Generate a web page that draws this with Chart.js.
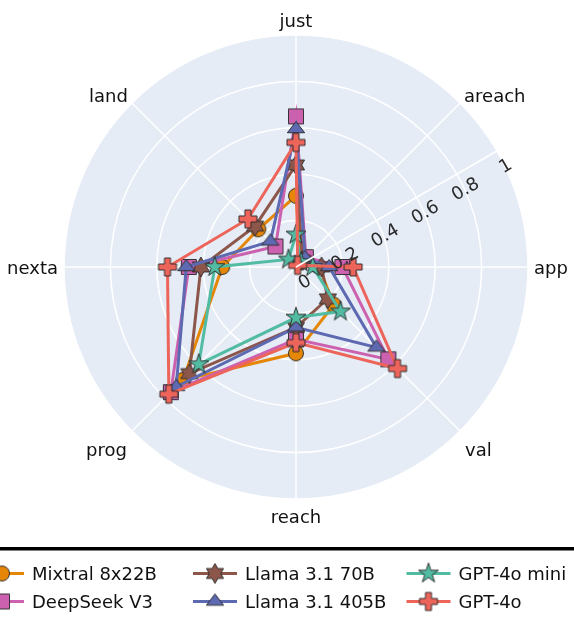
<!DOCTYPE html>
<html><head><meta charset="utf-8">
<script src="https://cdn.jsdelivr.net/npm/chart.js@4.4.1/dist/chart.umd.min.js"></script>
<style>html,body{margin:0;padding:0;background:#fff;} canvas{display:block;}</style>
</head><body>
<canvas id="c" width="574" height="623"></canvas>
<script>
// ---- data ----
const categories = ['just', 'areach', 'app', 'val', 'reach', 'prog', 'nexta', 'land'];
const seriesNames = ['Mixtral 8x22B', 'DeepSeek V3', 'Llama 3.1 70B', 'Llama 3.1 405B', 'GPT-4o mini', 'GPT-4o'];
const mixtral   = [0.307, 0.03, 0.10, 0.23, 0.372, 0.688, 0.318, 0.23];
const deepseek  = [0.649, 0.06, 0.20, 0.563, 0.312, 0.763, 0.462, 0.125];
const llama70   = [0.44, 0.04, 0.11, 0.194, 0.26, 0.65, 0.41, 0.249];
const llama405  = [0.595, 0.056, 0.143, 0.49, 0.26, 0.73, 0.473, 0.156];
const gpt4oMini = [0.14, 0.03, 0.072, 0.271, 0.218, 0.593, 0.35, 0.046];
const gpt4o     = [0.537, 0.01, 0.246, 0.619, 0.326, 0.775, 0.554, 0.293];
const radialTicks = [0, 0.2, 0.4, 0.6, 0.8, 1];
const radialTickLabels = ['0', '0.2', '0.4', '0.6', '0.8', '1'];

// ---- styles ----
const seriesValues = [mixtral, deepseek, llama70, llama405, gpt4oMini, gpt4o];
const seriesColors = ['rgb(229,134,6)', 'rgb(204,97,176)', 'rgb(140,86,75)', 'rgb(93,105,177)', 'rgb(82,188,163)', 'rgb(237,100,90)'];
const seriesSymbols = ['circle', 'square', 'hexagram', 'triangle', 'star', 'cross'];
const FONT = '18px "DejaVu Sans", Verdana, sans-serif';
const TEXT = '#111';

function symbolPath(sym, r) {
  const f = v => v.toFixed(2);
  if (sym === 'circle') { const p = new Path2D(); p.arc(0, 0, r, 0, Math.PI * 2); return p; }
  if (sym === 'square') return new Path2D(`M${r},${r}H${-r}V${-r}H${r}Z`);
  if (sym === 'triangle') { const rt = r * 2 / Math.sqrt(3), r2 = r / 2; return new Path2D(`M${-rt},${r2}H${rt}L0,${-r}Z`); }
  if (sym === 'cross') { const a = r * 0.4, b = r * 1.2;
    return new Path2D(`M${b},${a}H${a}V${b}H${-a}V${a}H${-b}V${-a}H${-a}V${-b}H${a}V${-a}H${b}Z`); }
  if (sym === 'star') { const rs = r * 1.4;
    const x1 = rs * 0.225, x2 = rs * 0.951, x3 = rs * 0.363, x4 = rs * 0.588;
    const y1 = -rs, y2 = rs * -0.309, y3 = rs * 0.118, y4 = rs * 0.382, y5 = rs * 0.809;
    return new Path2D(`M${f(x1)},${f(y2)}H${f(x2)}L${f(x3)},${f(y3)}L${f(x4)},${f(y5)}L0,${f(y4)}L${f(-x4)},${f(y5)}L${f(-x3)},${f(y3)}L${f(-x2)},${f(y2)}H${f(-x1)}L0,${f(y1)}Z`); }
  if (sym === 'hexagram') { const a = r * 0.66, b = r * 0.38, c = r * 0.76;
    return new Path2D(`M${-c},0l${-b},${-a}h${c}l${b},${-a}l${b},${a}h${c}l${-b},${a}l${b},${a}h${-c}l${-b},${a}l${-b},${-a}h${-c}Z`); }
}
function makeMarker(sym, color) {
  const cv = document.createElement('canvas');
  cv.width = 26; cv.height = 26;
  const c = cv.getContext('2d');
  c.translate(13, 13);
  const p = symbolPath(sym, 7.5);
  c.fillStyle = color; c.fill(p);
  c.lineWidth = 1; c.strokeStyle = 'rgba(45,45,45,0.95)'; c.stroke(p);
  return cv;
}
const markers = seriesSymbols.map((s, i) => makeMarker(s, seriesColors[i]));

const overlay = {
  id: 'overlay',
  afterDatasetsDraw(chart) {
    const s = chart.scales.r, ctx = chart.ctx;
    const a = 30 * Math.PI / 180, cx = s.xCenter, cy = s.yCenter;
    const R = s.getDistanceFromCenterForValue(1);
    ctx.save();
    ctx.strokeStyle = '#fff'; ctx.lineWidth = 1.5;
    ctx.beginPath(); ctx.moveTo(cx, cy); ctx.lineTo(cx + R * Math.cos(a), cy - R * Math.sin(a)); ctx.stroke();
    ctx.font = FONT; ctx.fillStyle = '#2a2a2a'; ctx.textAlign = 'center'; ctx.textBaseline = 'middle';
    radialTicks.forEach((v, i) => {
      const d = s.getDistanceFromCenterForValue(v);
      const x = cx + d * Math.cos(a) + 18 * Math.sin(a), y = cy - d * Math.sin(a) + 18 * Math.cos(a);
      ctx.save(); ctx.translate(x, y); ctx.rotate(-a); ctx.fillText(radialTickLabels[i], 0, 0); ctx.restore();
    });
    ctx.restore();
  },
  afterDraw(chart) {
    const s = chart.scales.r, ctx = chart.ctx;
    const cx = s.xCenter, cy = s.yCenter, R = s.getDistanceFromCenterForValue(1);
    ctx.save();
    ctx.font = FONT; ctx.fillStyle = TEXT; ctx.textBaseline = 'alphabetic';
    categories.forEach((lab, i) => {
      const th = Math.PI / 2 - i * 2 * Math.PI / categories.length;
      const ex = cx + R * Math.cos(th), ey = cy - R * Math.sin(th);
      const sn = Math.sin(th), cs = Math.cos(th);
      let x = ex, y, align = 'center';
      if (sn > 0.9) { y = ey - 7.7; }
      else if (sn > 0.5) { y = ey - 1.3; align = cs > 0 ? 'left' : 'right'; x = ex + (cs > 0 ? 4 : -4); }
      else if (sn > -0.5) { y = ey + 6.5; align = cs > 0 ? 'left' : 'right'; x = ex + (cs > 0 ? 6 : -6); }
      else if (sn > -0.9) { y = ey + 25; align = cs > 0 ? 'left' : 'right'; x = ex + (cs > 0 ? 5 : -5); }
      else { y = ey + 24; }
      ctx.textAlign = align; ctx.fillText(lab, x, y);
    });
    // legend
    ctx.fillStyle = '#000'; ctx.fillRect(0, 547, chart.width, 3.5);
    const colX = [2, 215, 428.5], rowY = [573.5, 601.5];
    seriesNames.forEach((name, i) => {
      const mx = colX[Math.floor(i / 2)], my = rowY[i % 2];
      ctx.strokeStyle = seriesColors[i]; ctx.lineWidth = 3;
      ctx.beginPath(); ctx.moveTo(mx - 22, my); ctx.lineTo(mx + 22, my); ctx.stroke();
      ctx.drawImage(markers[i], mx - 13, my - 13);
      ctx.fillStyle = TEXT; ctx.textAlign = 'left';
      ctx.fillText(name, mx + 30, my + 6.5);
    });
    ctx.restore();
  }
};

new Chart(document.getElementById('c'), {
  type: 'radar',
  data: {
    labels: categories,
    datasets: seriesNames.map((name, i) => ({
      label: name,
      data: seriesValues[i],
      borderColor: seriesColors[i],
      backgroundColor: seriesColors[i],
      borderWidth: 3,
      fill: false,
      tension: 0,
      pointStyle: markers[i],
      pointRadius: 8,
      order: seriesNames.length - i
    }))
  },
  options: {
    responsive: false,
    animation: false,
    layout: { padding: { left: 64, right: 45, top: 35, bottom: 123 } },
    plugins: { legend: { display: false }, tooltip: { enabled: false } },
    scales: {
      r: {
        min: 0, max: 1,
        backgroundColor: '#e5ecf6',
        ticks: { display: false, stepSize: 0.2 },
        grid: { color: '#ffffff', lineWidth: 1.5, circular: true },
        angleLines: { color: '#ffffff', lineWidth: 1.5 },
        pointLabels: { display: false }
      }
    }
  },
  plugins: [overlay]
});
</script>
</body></html>
